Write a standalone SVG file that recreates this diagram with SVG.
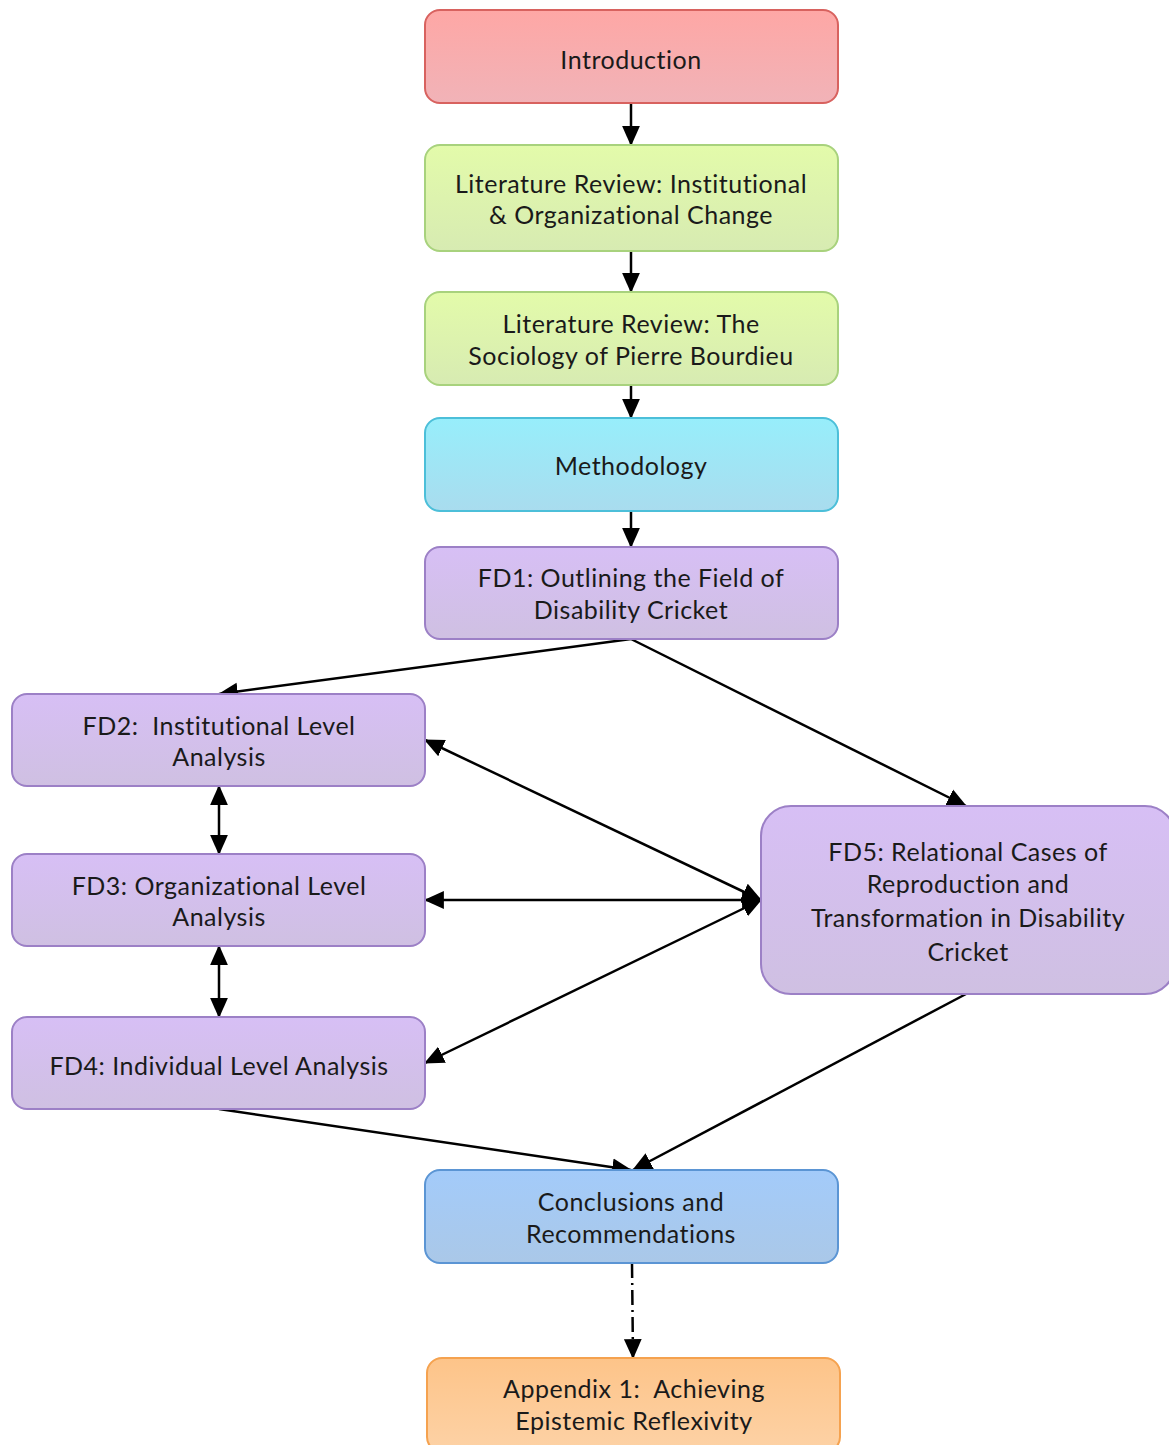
<svg xmlns="http://www.w3.org/2000/svg" width="1169" height="1445" viewBox="0 0 1169 1445">
<defs>
<linearGradient id="gRed" x1="0" y1="0" x2="0" y2="1"><stop offset="0" stop-color="#fea7a5"/><stop offset="1" stop-color="#f1b3b8"/></linearGradient>
<linearGradient id="gGreen" x1="0" y1="0" x2="0" y2="1"><stop offset="0" stop-color="#e3fbaa"/><stop offset="1" stop-color="#d7ebb2"/></linearGradient>
<linearGradient id="gCyan" x1="0" y1="0" x2="0" y2="1"><stop offset="0" stop-color="#97eefb"/><stop offset="1" stop-color="#a9dcee"/></linearGradient>
<linearGradient id="gPurple" x1="0" y1="0" x2="0" y2="1"><stop offset="0" stop-color="#d7bff5"/><stop offset="1" stop-color="#cfc0e2"/></linearGradient>
<linearGradient id="gBlue" x1="0" y1="0" x2="0" y2="1"><stop offset="0" stop-color="#a3cbfa"/><stop offset="1" stop-color="#aac8e8"/></linearGradient>
<linearGradient id="gOrange" x1="0" y1="0" x2="0" y2="1"><stop offset="0" stop-color="#fdc489"/><stop offset="1" stop-color="#fdd2a6"/></linearGradient>
<marker id="ah" markerUnits="userSpaceOnUse" markerWidth="20" markerHeight="20" viewBox="0 0 18 16" refX="17" refY="8" orient="auto-start-reverse">
<path d="M0,0 L18,8 L0,16 Z" fill="#000"/>
</marker>
</defs>
<style>
.box{stroke-width:2}
.red{fill:url(#gRed);stroke:#d8625f}
.green{fill:url(#gGreen);stroke:#a8d27d}
.cyan{fill:url(#gCyan);stroke:#4cbfd9}
.purple{fill:url(#gPurple);stroke:#9c80c6}
.blue{fill:url(#gBlue);stroke:#5b95d4}
.orange{fill:url(#gOrange);stroke:#f5a24f}
text{font-family:Lato,"Open Sans","Liberation Sans",sans-serif;font-size:25px;letter-spacing:0.5px;fill:#1a1a1a;text-anchor:middle;white-space:pre}
.conn{stroke:#000;stroke-width:2.5;fill:none}
.one{marker-end:url(#ah)}
.two{marker-start:url(#ah);marker-end:url(#ah)}
</style>
<rect width="1169" height="1445" fill="#fff"/>
<g id="connectors">
<line class="conn one" x1="631" y1="103" x2="631" y2="145"/>
<line class="conn one" x1="631" y1="251" x2="631" y2="292"/>
<line class="conn one" x1="631" y1="385" x2="631" y2="418"/>
<line class="conn one" x1="631" y1="511" x2="631" y2="547"/>
<line class="conn one" x1="631" y1="639" x2="219" y2="694"/>
<line class="conn one" x1="631" y1="639" x2="966" y2="806"/>
<line class="conn two" x1="219" y1="786" x2="219" y2="854"/>
<line class="conn two" x1="219" y1="946" x2="219" y2="1017"/>
<line class="conn two" x1="761" y1="900" x2="425" y2="740"/>
<line class="conn two" x1="761" y1="900" x2="425" y2="900"/>
<line class="conn two" x1="761" y1="900" x2="425" y2="1063"/>
<line class="conn one" x1="219" y1="1109" x2="631" y2="1170"/>
<line class="conn one" x1="966" y1="994" x2="633" y2="1170"/>
<line class="conn one" x1="632" y1="1263" x2="633" y2="1358" stroke-dasharray="15,5,2,5"/>
</g>
<g id="introduction"><rect class="box red" x="425" y="10" width="413" height="93" rx="15"/><text x="631" y="69">Introduction</text></g>
<g id="litreview1"><rect class="box green" x="425" y="145" width="413" height="106" rx="15"/><text x="631" y="193">Literature Review: Institutional</text><text x="631" y="224">&amp; Organizational Change</text></g>
<g id="litreview2"><rect class="box green" x="425" y="292" width="413" height="93" rx="15"/><text x="631" y="333">Literature Review: The</text><text x="631" y="365">Sociology of Pierre Bourdieu</text></g>
<g id="methodology"><rect class="box cyan" x="425" y="418" width="413" height="93" rx="15"/><text x="631" y="475">Methodology</text></g>
<g id="fd1"><rect class="box purple" x="425" y="547" width="413" height="92" rx="15"/><text x="631" y="587">FD1: Outlining the Field of</text><text x="631" y="619">Disability Cricket</text></g>
<g id="fd2"><rect class="box purple" x="12" y="694" width="413" height="92" rx="15"/><text x="219" y="735">FD2:  Institutional Level</text><text x="219" y="766">Analysis</text></g>
<g id="fd3"><rect class="box purple" x="12" y="854" width="413" height="92" rx="15"/><text x="219" y="895">FD3: Organizational Level</text><text x="219" y="926">Analysis</text></g>
<g id="fd4"><rect class="box purple" x="12" y="1017" width="413" height="92" rx="15"/><text x="219" y="1075">FD4: Individual Level Analysis</text></g>
<g id="fd5"><rect class="box purple" x="761" y="806" width="414" height="188" rx="30"/><text x="968" y="861">FD5: Relational Cases of</text><text x="968" y="893">Reproduction and</text><text x="968" y="927">Transformation in Disability</text><text x="968" y="961">Cricket</text></g>
<g id="conclusions"><rect class="box blue" x="425" y="1170" width="413" height="93" rx="15"/><text x="631" y="1211">Conclusions and</text><text x="631" y="1243">Recommendations</text></g>
<g id="appendix"><rect class="box orange" x="427" y="1358" width="413" height="94" rx="15"/><text x="634" y="1398">Appendix 1:  Achieving</text><text x="634" y="1430">Epistemic Reflexivity</text></g>
</svg>
